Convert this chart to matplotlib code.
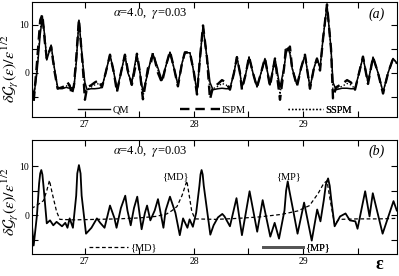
"""
plot.py
Fluctuating level density dG(e)/e^1/2, alpha=4.0, gamma=0.03.
(a) QM vs ISPM vs SSPM ; (b) {MD} and {MP} orbit contributions.
"""
import matplotlib
matplotlib.use("Agg")
import matplotlib.pyplot as plt
from matplotlib.lines import Line2D
from matplotlib.ticker import MultipleLocator

plt.rcParams["font.family"] = "serif"
plt.rcParams["font.serif"] = ["Liberation Serif", "DejaVu Serif"]
plt.rcParams["mathtext.fontset"] = "stix"

# ---- panel (a): common energy grid, three curves
EPS_A = [26.51, 26.53, 26.56, 26.59, 26.61, 26.63, 26.65, 26.69, 26.72, 26.75,
         26.79, 26.83, 26.84, 26.86, 26.88, 26.90, 26.92, 26.945, 26.98, 27.00,
         27.02, 27.055, 27.09, 27.13, 27.156, 27.19, 27.23, 27.266, 27.294, 27.33,
         27.367, 27.394, 27.43, 27.46, 27.477, 27.505, 27.532, 27.578, 27.605, 27.624,
         27.67, 27.706, 27.743, 27.78, 27.817, 27.853, 27.89, 27.917, 27.963, 28.00,
         28.028, 28.055, 28.083, 28.12, 28.147, 28.174, 28.22, 28.257, 28.294, 28.33,
         28.367, 28.394, 28.422, 28.44, 28.477, 28.505, 28.541, 28.578, 28.615, 28.651,
         28.697, 28.743, 28.789, 28.826, 28.844, 28.862, 28.88, 28.90, 28.945, 28.982,
         29.018, 29.064, 29.10, 29.128, 29.156, 29.183, 29.22, 29.257, 29.275, 29.303,
         29.358, 29.404, 29.44, 29.477, 29.514, 29.55, 29.596, 29.642, 29.688, 29.734,
         29.78, 29.826, 29.862]

QM = [-2, -5, 0, 8, 11.7, 8, 2.7, 5.8, 1, -3.1,
      -3.3, -3.0, -3.1, -3.2, -3.1, -3.0, 2, 11, 2, -2,
      -3.5, -3.3, -3.3, -3.2, -3.0, 0, 3.8, 0, -3.5, 0,
      3.8, 0, -2, 2, 3.8, 0, -4, 0, 3, 3.9,
      1, -1.5, 1.5, 4.3, 1, -2.5, 2, 4.2, 4.2, 0,
      -4, 3, 9.7, 3, -2, -3.5, -3.3, -3.2, -3.3, -3.3,
      0, 3.3, 0, -3.0, 0, 3.3, 0, -2.9, 0, 3.0,
      -2.5, 3.0, -3.0, 1, 4, 5.2, 4, 1, -2.5, 1,
      3.7, -3.1, 1, 3.0, 1.0, 7, 14.2, 5, -2, -3.5,
      -3.2, -3.2, -3.3, -3.3, 0, 3.3, -2, 3.3, 0, -4,
      0, 3, 2]

ISPM = [-3, -6, 2, 11, 12.2, 7, 3, 5.5, 0.5, -3.3,
        -3, -2.6, -2.0, -2.6, -4.5, -2.5, 3, 11.2, 1.5, -5.6,
        -3, -2.6, -2, -1.5, -3, 0, 3.8, 0, -4, 0,
        3.8, 0.5, -2.5, 1, 4, 0, -5.5, 1, 2, 4.3,
        0, -2, 1.5, 4.5, 1, -2.8, 2, 4.3, 4.3, 0,
        -4.5, 3, 9.9, 3, -5.5, -3, -2.3, -1.5, -2, -3.5,
        0, 3.3, 0, -3.5, 0, 3.4, 0, -3, 0, 3.1,
        -2.8, 3.0, -5.6, 1, 5.5, 4.8, 5.5, 1, -2.8, 1,
        3.8, -3.3, 1, 3.0, 0.5, 7, 14.3, 5, -5.3, -3,
        -2.3, -1.5, -2, -3.5, 0, 3.4, -2.3, 3.3, 0, -4.3,
        0, 3, 2]

SSPM = [-2.5, -5.5, 1, 9, 11.8, 8, 2.8, 5.7, 1, -3.2,
        -3.3, -2.8, -2.4, -2.8, -3.5, -2.8, 2.5, 11, 2, -4,
        -3.5, -3, -2.5, -2.2, -3, 0, 3.8, 0, -3.8, 0,
        3.8, 0, -2.2, 1.5, 3.8, 0, -5, 0.5, 2.5, 4,
        0.5, -1.8, 1.5, 4.3, 1, -2.6, 2, 4.2, 4.2, 0,
        -4.2, 3, 9.8, 3, -4, -3.3, -2.8, -2.2, -2.5, -3.3,
        0, 3.3, 0, -3.2, 0, 3.3, 0, -2.9, 0, 3.0,
        -2.6, 3.0, -4.5, 1, 5, 5, 5, 1, -2.6, 1,
        3.7, -3.2, 1, 3.0, 0.8, 7, 14.2, 5, -4, -3.3,
        -2.8, -2.2, -2.5, -3.3, 0, 3.3, -2.1, 3.3, 0, -4.1,
        0, 3, 2]

# ---- panel (b): periodic orbit families
EPS_MP = [26.51, 26.53, 26.56, 26.58, 26.59, 26.60, 26.61, 26.62, 26.65, 26.68,
          26.71, 26.74, 26.79, 26.82, 26.84, 26.86, 26.89, 26.92, 26.93, 26.945,
          26.96, 26.97, 27.01, 27.06, 27.11, 27.14, 27.18, 27.23, 27.27, 27.29,
          27.33, 27.37, 27.39, 27.42, 27.45, 27.48, 27.50, 27.52, 27.55, 27.57,
          27.60, 27.64, 27.67, 27.69, 27.72, 27.74, 27.78, 27.83, 27.87, 27.90,
          27.94, 27.96, 27.99, 28.02, 28.05, 28.06, 28.07, 28.08, 28.09, 28.15,
          28.18, 28.22, 28.26, 28.28, 28.33, 28.39, 28.44, 28.51, 28.58, 28.63,
          28.70, 28.74, 28.78, 28.83, 28.845, 28.86, 28.875, 28.91, 28.95, 29.01,
          29.08, 29.13, 29.16, 29.19, 29.21, 29.23, 29.245, 29.26, 29.29, 29.34,
          29.39, 29.43, 29.48, 29.50, 29.57, 29.61, 29.64, 29.73, 29.83, 29.86]
MP = [-1.0, -6.1, 0.0, 6.5, 8.5, 9.2, 8.3, 6.0, -1.6, -1.0,
      -2.0, -1.3, -2.2, -1.5, -2.5, -0.6, -2.5, 4.0, 8.5, 10.2,
      8.5, 4.0, -3.7, -2.5, -0.6, -1.5, -2.5, 2.0, -0.5, -2.5,
      1.5, 4.0, 1.0, -2.0, 1.5, 3.8, 0.5, -2.8, 0.5, 2.0,
      -1.0, 1.0, 3.3, 1.0, -2.5, 1.0, 3.8, 0.5, -4.0, -0.6,
      -2.5, -0.8, -2.3, 0.5, 6.0, 8.3, 9.2, 8.3, 6.0, -3.9,
      -2.0, -0.4, 0.3, -0.2, -2.2, 3.5, -4.0, 4.9, -3.3, 3.1,
      -4.3, -1.5, -4.7, 1.0, 5.0, 6.9, 5.0, 1.0, -3.7, 2.6,
      -5.1, 1.2, -1.2, 3.0, 6.3, 7.5, 6.0, 3.0, -2.2, -0.2,
      0.4, -1.0, -1.2, -2.7, 4.9, -0.2, 4.5, -3.7, 2.9, 1.0]

EPS_MD = [26.51, 26.57, 26.62, 26.65, 26.675, 26.70, 26.74, 26.77, 26.90, 27.10,
          27.30, 27.50, 27.65, 27.75, 27.80, 27.844, 27.89, 27.935, 27.98, 28.01,
          28.20, 28.40, 28.60, 28.80, 28.95, 29.06, 29.14, 29.19, 29.22, 29.25,
          29.29, 29.33, 29.50, 29.70, 29.86]
MD = [1.4, 2.2, 3.0, 5.0, 7.1, 4.5, 0.8, -0.8, -0.9, -0.8,
      -0.7, -0.5, -0.2, 0.3, 1.0, 1.8, 4.0, 7.0, 0.8, -0.7,
      -0.8, -0.6, -0.3, 0.2, 0.9, 2.0, 4.5, 6.5, 7.0, 3.0,
      -1.8, -0.8, -0.7, -0.7, -0.6]

PARAMS = r"$\alpha$=4.0,  $\gamma$=0.03"
YLABEL = r"$\delta\mathcal{G}_{\gamma}(\varepsilon)/\varepsilon^{1/2}$"

fig = plt.figure(figsize=(3.99, 2.76), dpi=100)
ax1 = fig.add_axes([0.080, 0.576, 0.915, 0.417])
ax2 = fig.add_axes([0.080, 0.080, 0.915, 0.413])


def style_axes(ax, ylim, label_y):
    ax.set_xlim(26.514, 29.862)
    ax.set_ylim(*ylim)
    ax.xaxis.set_major_locator(MultipleLocator(1))
    ax.xaxis.set_minor_locator(MultipleLocator(0.5))
    ax.set_yticks([-5, 0, 5, 10])
    ax.set_yticklabels(["", "0", "", "10"])
    ax.tick_params(which="both", direction="in", top=True, right=True,
                   length=4, width=0.8, labelsize=7, pad=2)
    ax.set_ylabel(YLABEL, fontsize=11.5)
    ax.yaxis.set_label_coords(-0.029, label_y)
    ax.text(0.323, 0.90, PARAMS, transform=ax.transAxes, fontsize=9,
            ha="center", va="center")


def small_legend(ax, handle, label, x, y, hlen):
    leg = ax.legend([handle], [label], loc="center left", bbox_to_anchor=(x, y),
                    frameon=False, fontsize=7.5, borderpad=0, borderaxespad=0,
                    handlelength=hlen, handletextpad=0.2)
    ax.add_artist(leg)


# (a)
ax1.plot(EPS_A, QM, color="black", lw=1.1)
ax1.plot(EPS_A, ISPM, color="black", lw=1.7, dashes=(4, 2.5))
ax1.plot(EPS_A, SSPM, color="black", lw=1.0, dashes=(1, 1.5))
style_axes(ax1, (-9.2, 14.8), 0.42)
ax1.text(0.945, 0.895, "(a)", transform=ax1.transAxes, fontsize=10,
         style="italic", ha="center", va="center")

small_legend(ax1, Line2D([], [], color="black", lw=1.0), "QM", 0.126, 0.06, 3.1)
small_legend(ax1, Line2D([], [], color="black", lw=1.7, dashes=(4, 2.5)),
             "ISPM", 0.405, 0.06, 3.85)
small_legend(ax1, Line2D([], [], color="black", lw=1.0, dashes=(1, 1.5)),
             "SSPM", 0.701, 0.06, 3.4)

# (b)
ax2.plot(EPS_MD, MD, color="black", lw=0.9, dashes=(3, 2))
ax2.plot(EPS_MP, MP, color="black", lw=1.3)
style_axes(ax2, (-7.8, 15.3), 0.46)
ax2.text(0.945, 0.90, "(b)", transform=ax2.transAxes, fontsize=10,
         style="italic", ha="center", va="center")
ax2.text(27.83, 7.8, "{MD}", fontsize=7.5, ha="center", va="center")
ax2.text(28.87, 7.8, "{MP}", fontsize=7.5, ha="center", va="center")

small_legend(ax2, Line2D([], [], color="black", lw=0.9, dashes=(3, 2)),
             "{MD}", 0.156, 0.053, 3.75)
small_legend(ax2, Line2D([], [], color="#555555", lw=2.0),
             "{MP}", 0.633, 0.053, 3.85)

fig.text(0.952, 0.04, "\u03b5", fontsize=13, fontweight="bold",
         ha="center", va="center")

fig.savefig("out.png", dpi=100)
